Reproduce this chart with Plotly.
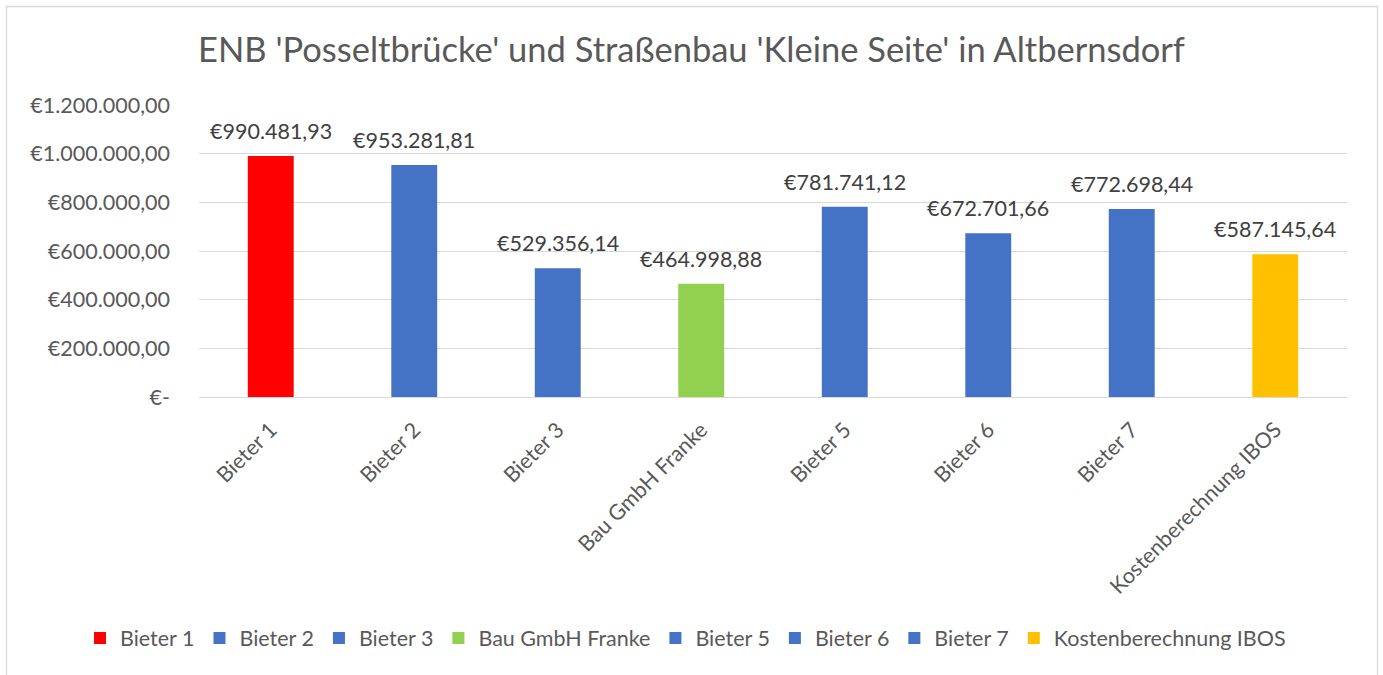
import plotly.graph_objects as go

categories = ["Bieter 1", "Bieter 2", "Bieter 3", "Bau GmbH Franke",
              "Bieter 5", "Bieter 6", "Bieter 7", "Kostenberechnung IBOS"]
values = [990481.93, 953281.81, 529356.14, 464998.88,
          781741.12, 672701.66, 772698.44, 587145.64]
colors = ["#FF0000", "#4472C4", "#4472C4", "#92D050",
          "#4472C4", "#4472C4", "#4472C4", "#FFC000"]
tick_vals = [0, 200000, 400000, 600000, 800000, 1000000, 1200000]
tick_text = ["€-", "€200.000,00", "€400.000,00", "€600.000,00",
             "€800.000,00", "€1.000.000,00", "€1.200.000,00"]
title = "ENB 'Posseltbrücke' und Straßenbau 'Kleine Seite' in Altbernsdorf"

FONT = "Lato"
TXT = "#595959"
FS = 21.5


def euro(v):
    s = f"{v:,.2f}"
    s = s.replace(",", "X").replace(".", ",").replace("X", ".")
    return "€" + s


fig = go.Figure()
for cat, val, col in zip(categories, values, colors):
    fig.add_trace(go.Bar(
        x=[cat], y=[val], name=cat, marker_color=col,
        marker_line_width=0, cliponaxis=False,
    ))
    fig.add_annotation(x=cat, y=val, text=euro(val), showarrow=False,
                       yanchor="bottom", yshift=10,
                       font=dict(family=FONT, size=FS, color="#404040"))

W, H = 1383, 675
L, R, T, B = 199, 36, 105, 278
pw, ph = W - L - R, H - T - B


def px_x(p):
    return (p - L) / pw


def px_y(p):
    return (H - B - p) / ph


fig.update_layout(
    width=W, height=H,
    margin=dict(l=L, r=R, t=T, b=B, autoexpand=False),
    separators=",.",
    plot_bgcolor="white", paper_bgcolor="white",
    font=dict(family=FONT, color=TXT, size=FS),
    title=dict(text=title, x=0.5, xanchor="center", y=1 - 50 / H, yanchor="middle",
               yref="container", font=dict(family=FONT, size=34.5, color=TXT)),
    barmode="group", bargap=0.68,
    showlegend=True,
    legend=dict(orientation="h", x=px_x(80), xanchor="left", xref="paper",
                y=px_y(638), yref="paper", yanchor="middle",
                font=dict(family=FONT, size=FS, color=TXT),
                itemwidth=30, traceorder="normal", tracegroupgap=0),
    xaxis=dict(tickangle=-45, showgrid=False, showline=False, ticks="",
               ticklabelstandoff=15,
               tickfont=dict(family=FONT, size=FS, color=TXT),
               categoryorder="array", categoryarray=categories),
    yaxis=dict(range=[0, 1200000], tickvals=tick_vals, ticktext=tick_text,
               showgrid=True, gridcolor="#D9D9D9", gridwidth=1.3,
               zeroline=True, zerolinecolor="#D9D9D9", zerolinewidth=1.3,
               showline=False, ticks="", ticklabelstandoff=28,
               tickfont=dict(family=FONT, size=FS, color=TXT)),
    shapes=[dict(type="rect", xref="paper", yref="paper",
                 x0=px_x(6.5), x1=px_x(1377.5), y0=px_y(700), y1=px_y(6.5),
                 line=dict(color="#D9D9D9", width=1.3), layer="below")],
)

fig.write_html("out.html")
